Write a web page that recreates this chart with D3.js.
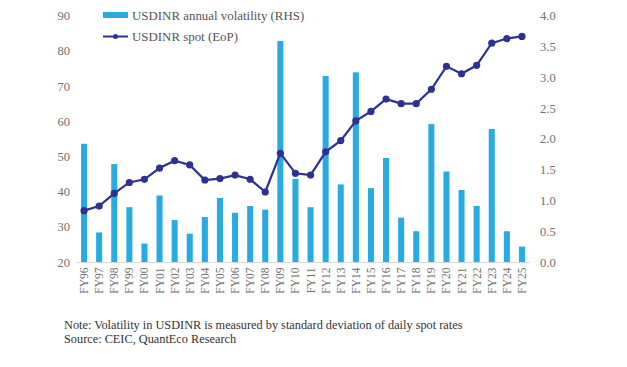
<!DOCTYPE html>
<html><head><meta charset="utf-8">
<script src="https://cdn.jsdelivr.net/npm/d3@7"></script>
<style>
body{margin:0;background:#fff;}
svg{display:block;font-family:"Liberation Serif","DejaVu Serif",serif;}
</style></head>
<body><svg id="c" width="627" height="367"></svg>
<script>
const categories = ["FY96","FY97","FY98","FY99","FY00","FY01","FY02","FY03","FY04","FY05","FY06","FY07","FY08","FY09","FY10","FY11","FY12","FY13","FY14","FY15","FY16","FY17","FY18","FY19","FY20","FY21","FY22","FY23","FY24","FY25"];
const volatility = [1.92,0.48,1.59,0.89,0.30,1.08,0.68,0.46,0.73,1.04,0.80,0.91,0.85,3.59,1.35,0.89,3.02,1.26,3.08,1.20,1.69,0.72,0.50,2.24,1.47,1.17,0.91,2.16,0.50,0.25];
const spot = [34.6,35.9,39.5,42.6,43.5,46.7,48.8,47.6,43.3,43.7,44.7,43.5,39.9,50.9,45.2,44.7,51.3,54.5,60.1,62.8,66.3,65.0,65.0,69.1,75.6,73.5,75.9,82.2,83.5,84.1];
const leftTicks = [20,30,40,50,60,70,80,90];
const rightTicks = [0,0.5,1,1.5,2,2.5,3,3.5,4];
const legendLabels = ["USDINR annual volatility (RHS)","USDINR spot (EoP)"];
const notes = ["Note: Volatility in USDINR is measured by standard deviation of daily spot rates","Source: CEIC, QuantEco Research"];

const svg = d3.select("#c");
const barColor = "#29abe2", lineColor = "#2e3192", tickColor = "#707070";
const x = d3.scaleBand().domain(categories).range([76.5, 529.5]).paddingInner(0.6).paddingOuter(0.3);
const yL = d3.scaleLinear().domain([20,90]).range([262,15.7]);
const yR = d3.scaleLinear().domain([0,4]).range([262,15.7]);

// bars
svg.append("g").selectAll("rect").data(volatility).join("rect")
  .attr("x",(d,i)=>x(categories[i])).attr("width",x.bandwidth())
  .attr("y",d=>yR(d)).attr("height",d=>yR(0)-yR(d)).attr("fill",barColor);

// baseline
svg.append("line").attr("x1",76.5).attr("x2",529.5).attr("y1",262.5).attr("y2",262.5)
  .attr("stroke","#d9d9d9").attr("stroke-width",1);

// left axis
const axL = svg.append("g").attr("transform","translate(70,0)")
  .call(d3.axisLeft(yL).tickValues(leftTicks).tickSize(0).tickPadding(0).tickFormat(d3.format("d")));
axL.select(".domain").remove();
axL.selectAll("text").attr("fill",tickColor).attr("font-size",12.5).attr("font-family","Liberation Serif, serif");

// right axis
const axR = svg.append("g").attr("transform","translate(540,0)")
  .call(d3.axisRight(yR).tickValues(rightTicks).tickSize(0).tickPadding(0).tickFormat(d3.format(".1f")));
axR.select(".domain").remove();
axR.selectAll("text").attr("fill",tickColor).attr("font-size",12.5).attr("font-family","Liberation Serif, serif");

// x labels
svg.append("g").selectAll("text").data(categories).join("text")
  .attr("transform",d=>`translate(${x(d)+x.bandwidth()/2+4},267.5) rotate(-90)`)
  .attr("text-anchor","end").attr("font-size",11.5).attr("fill",tickColor).text(d=>d);

// line
const cx = (d,i)=>x(categories[i])+x.bandwidth()/2;
svg.append("path").datum(spot)
  .attr("d",d3.line().x(cx).y(d=>yL(d)))
  .attr("fill","none").attr("stroke",lineColor).attr("stroke-width",2.2);
svg.append("g").selectAll("circle").data(spot).join("circle")
  .attr("cx",cx).attr("cy",d=>yL(d)).attr("r",3.6).attr("fill",lineColor);

// legend
const lg = svg.append("g");
lg.append("rect").attr("x",103).attr("y",12).attr("width",25).attr("height",6).attr("fill",barColor);
lg.append("text").attr("x",132).attr("y",19.5).attr("font-size",12.9).attr("fill","#555").text(legendLabels[0]);
lg.append("line").attr("x1",103).attr("x2",128).attr("y1",36.5).attr("y2",36.5).attr("stroke",lineColor).attr("stroke-width",2);
lg.append("circle").attr("cx",115.5).attr("cy",36.5).attr("r",2.5).attr("fill",lineColor);
lg.append("text").attr("x",132).attr("y",40.5).attr("font-size",12.9).attr("fill","#555").text(legendLabels[1]);

// notes
svg.append("g").selectAll("text").data(notes).join("text")
  .attr("x",64).attr("y",(d,i)=>329+i*13.5).attr("font-size",12.3).attr("fill","#333").text(d=>d);
</script></body></html>
